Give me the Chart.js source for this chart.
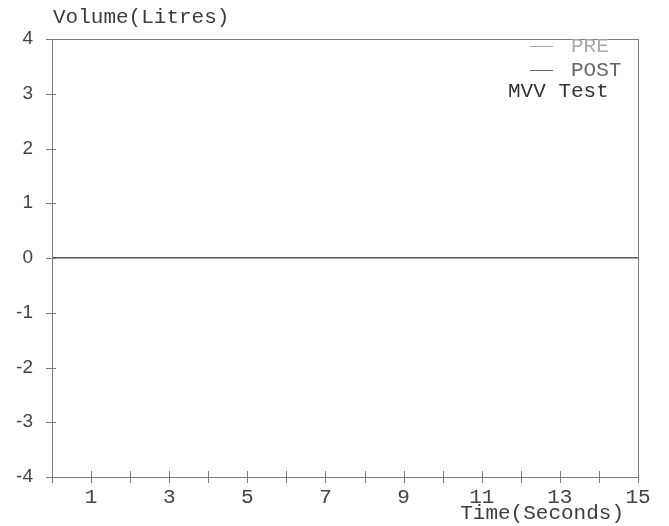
<!DOCTYPE html>
<html>
<head>
<meta charset="utf-8">
<script src="https://cdn.jsdelivr.net/npm/chart.js@4/dist/chart.umd.min.js"></script>
<style>
  html, body { margin: 0; padding: 0; background: #fff; }
  #wrap { width: 669px; height: 526px; }
</style>
</head>
<body>
<div id="wrap"><canvas id="mvvChart" width="669" height="526"></canvas></div>
<script>
// MVV test volume/time plot - empty PRE / POST traces on a -4..4 litre scale

const seriesNames = ['PRE', 'POST'];
const seriesColors = ['#a8a8a8', '#666666'];
const preVolume = [];   // no trace recorded on the sheet
const postVolume = [];
const xTickLabels = ['1', '3', '5', '7', '9', '11', '13', '15'];
const yTickLabels = ['-4', '-3', '-2', '-1', '0', '1', '2', '3', '4'];
const chartTitle = 'MVV Test';
const xTitle = 'Time(Seconds)';
const yTitle = 'Volume(Litres)';

const MONO = '"Liberation Mono", "DejaVu Sans Mono", monospace';
const SANS = '"Liberation Sans", Arial, sans-serif';

// frame, crossing tick marks, axis titles and the in-plot legend
const frameAndText = {
  id: 'frameAndText',
  afterDraw(chart) {
    const { ctx, chartArea: a, scales: { x, y } } = chart;
    ctx.save();
    ctx.strokeStyle = '#7c7c7c';
    ctx.lineWidth = 1;
    ctx.strokeRect(a.left + 0.5, a.top + 0.5, a.right - a.left, a.bottom - a.top);

    ctx.beginPath();
    x.ticks.forEach(t => {
      const px = Math.round(x.getPixelForValue(t.value)) + 0.5;
      ctx.moveTo(px, a.bottom - 6);
      ctx.lineTo(px, a.bottom + 6);
    });
    y.ticks.forEach(t => {
      const py = Math.round(y.getPixelForValue(t.value)) + 0.5;
      ctx.moveTo(a.left - 6, py);
      ctx.lineTo(a.left + 4, py);
    });
    ctx.stroke();

    ctx.font = '21px ' + MONO;
    ctx.fillStyle = '#3c3c3c';
    ctx.textBaseline = 'middle';
    ctx.textAlign = 'left';
    ctx.fillText(yTitle, a.left + 1, 17);
    ctx.textAlign = 'right';
    ctx.fillText(xTitle, a.right - 14, 513);

    // legend
    ctx.textAlign = 'left';
    chart.data.datasets.forEach((ds, i) => {
      const ly = a.top + 7 + i * 24;
      ctx.strokeStyle = ds.borderColor;
      ctx.beginPath();
      ctx.moveTo(a.right - 108, ly + 0.5);
      ctx.lineTo(a.right - 85, ly + 0.5);
      ctx.stroke();
      ctx.fillStyle = ds.borderColor;
      ctx.fillText(ds.label, a.right - 67, ly);
    });
    ctx.fillStyle = '#333';
    ctx.fillText(chartTitle, a.right - 130, a.top + 52);
    ctx.restore();
  }
};

new Chart(document.getElementById('mvvChart'), {
  type: 'line',
  data: {
    datasets: [
      { label: seriesNames[0], data: preVolume, borderColor: seriesColors[0], borderWidth: 1, pointRadius: 0 },
      { label: seriesNames[1], data: postVolume, borderColor: seriesColors[1], borderWidth: 1, pointRadius: 0 }
    ]
  },
  options: {
    responsive: false,
    animation: false,
    layout: { padding: { top: 39, right: 31, bottom: 0, left: 0 } },
    plugins: { legend: { display: false }, tooltip: { enabled: false } },
    scales: {
      x: {
        type: 'linear',
        min: 0,
        max: 15,
        afterFit: s => { s.height = 49; },
        ticks: {
          stepSize: 1,
          autoSkip: false,
          maxRotation: 0,
          padding: 0,
          color: '#444',
          font: { family: MONO, size: 21 },
          callback: v => xTickLabels.includes(String(v)) ? String(v) : ''
        },
        grid: { display: false },
        border: { display: false }
      },
      y: {
        min: -4,
        max: 4,
        afterFit: s => { s.width = 52; },
        ticks: {
          stepSize: 1,
          padding: 19,
          color: '#444',
          font: { family: SANS, size: 19 },
          callback: v => yTickLabels.includes(String(v)) ? String(v) : ''
        },
        grid: {
          drawTicks: false,
          color: c => c.tick && c.tick.value === 0 ? '#555' : 'rgba(0,0,0,0)',
          lineWidth: 1.5
        },
        border: { display: false }
      }
    }
  },
  plugins: [frameAndText]
});
</script>
</body>
</html>
